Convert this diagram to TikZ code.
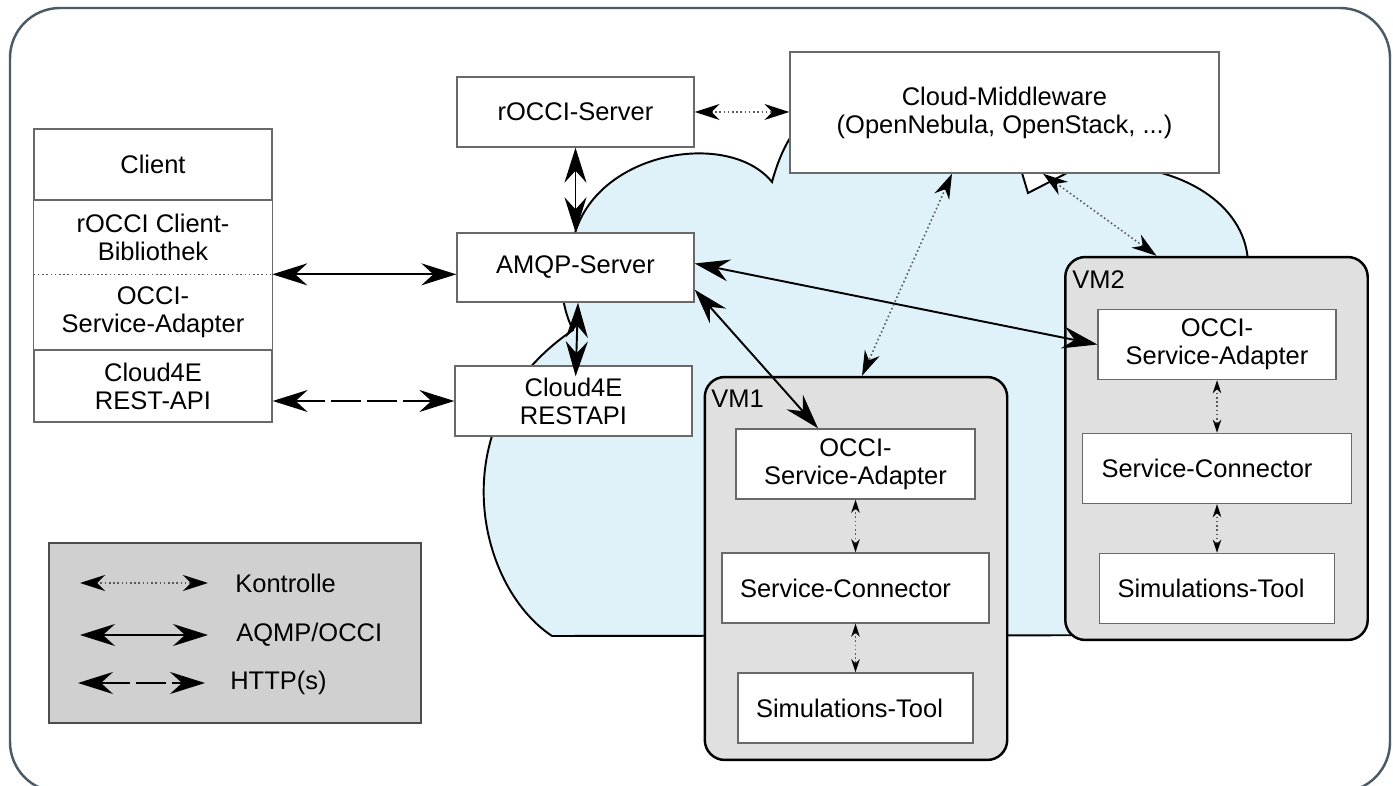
\documentclass[tikz,border=0pt]{standalone}
\usepackage{fontspec}
\setmainfont{Liberation Sans}
\usetikzlibrary{arrows.meta}
\usepackage{xcolor}
\definecolor{skyLight}{RGB}{223, 241, 249}
\definecolor{vmGray}{RGB}{224, 224, 224}
\definecolor{legendGray}{RGB}{208, 208, 208}
\definecolor{frameSlate}{RGB}{75, 90, 102}
\definecolor{boxLine}{RGB}{105, 105, 105}

\begin{document}
\begin{tikzpicture}
	[
		x=0.02cm, y=-0.02cm,
		font=\fontsize{14.5}{16}\selectfont,
		box/.style={
			draw=boxLine, line width=0.8pt, fill=white, align=center,
			inner sep=2pt, minimum height=1.4cm
		},
		cell/.style={align=center, inner sep=0pt, minimum width=4.76cm},
		vm/.style={
			draw=black, line width=1.4pt, fill=vmGray,
			rounded corners=0.4cm, minimum width=6.05cm, minimum height=7.66cm
		},
		tag/.style={anchor=base west, inner sep=0pt},
		amqp/.style={
			line width=1.1pt,
			{Stealth[length=0.7cm, width=0.44cm, inset=0.24cm]}-{Stealth[length=0.7cm, width=0.44cm, inset=0.24cm]}
		},
		http/.style={amqp, dash pattern=on 0.6cm off 0.12cm},
		ctrl/.style={
			draw=black!65, line width=0.9pt, dash pattern=on 0.9pt off 1.5pt,
			{Stealth[length=0.5cm, width=0.32cm, inset=0.16cm, color=black]}-{Stealth[length=0.5cm, width=0.32cm, inset=0.16cm, color=black]}
		},
		inner/.style={
			ctrl,
			{Stealth[length=0.26cm, width=0.17cm, inset=0.08cm, color=black]}-{Stealth[length=0.26cm, width=0.17cm, inset=0.08cm, color=black]}
		}
	]

\useasboundingbox (0,0) rectangle (1393,786);

% Frame
\draw [frameSlate, line width=1.4pt, rounded corners=1cm]
	(10,8) rectangle (1390,792);

% Cloud
\draw [fill=skyLight, line width=1.1pt]
	(552,636)
	.. controls (475,585) and (440,420) .. (573,330)
	.. controls (558,300) and (558,262) .. (575,233)
	.. controls (600,150) and (730,130) .. (772,182)
	.. controls (778,160) and (785,145) .. (795,130)
	.. controls (830,60) and (990,70) .. (1018,165)
	-- (1022,173) -- (1028,193) -- (1067,173)
	.. controls (1075,160) and (1088,162) .. (1100,165)
	.. controls (1190,165) and (1248,210) .. (1248,265)
	-- (1250,635) -- cycle;

% Legend
\node (legend) [draw=black!70, line width=0.8pt, fill=legendGray,
	minimum width=7.44cm, minimum height=3.6cm] at (235,633) {};
\coordinate (k0) at (80,583);
\coordinate (k1) at (208,583);
\coordinate (a0) at (80,635);
\coordinate (a1) at (208,635);
\coordinate (h0) at (78,683);
\coordinate (h1) at (205,683);
\node (ktext) [anchor=west, inner sep=0pt] at (235,583) {Kontrolle};
\node (atext) [anchor=west, inner sep=0pt] at (236,635) {AQMP/OCCI};
\node (htext) [anchor=west, inner sep=0pt] at (230,683) {HTTP(s)};
\draw [ctrl] (k0) -- (k1);
\draw [amqp] (a0) -- (a1);
\draw [http] (h0) -- (h1);

% Client stack
\node (client) [box, minimum width=4.76cm, minimum height=1.42cm] at (153,164.5) {Client};
\node (lib) [cell, minimum height=1.48cm] at (153,237) {rOCCI Client-\\Bibliothek};
\node (adapter) [cell, minimum height=1.52cm] at (153,312) {OCCI-\\Service-Adapter};
\node (rest) [box, minimum width=4.76cm, minimum height=1.44cm] at (153,386) {Cloud4E\\REST-API};
\draw [boxLine, line width=0.8pt] (lib.north west) rectangle (adapter.south east);
\draw [ctrl, -] (lib.south west) -- (lib.south east);

% Servers
\node (rocci) [box, minimum width=4.74cm] at (575.5,112) {rOCCI-Server};
\node (mw) [box, minimum width=8.58cm, minimum height=2.42cm] at (1004.5,112.5)
	{Cloud-Middleware\\(OpenNebula, OpenStack, ...)};
\node (amqpsrv) [box, minimum width=4.74cm, minimum height=1.38cm] at (575.5,267.5) {AMQP-Server};
\node (restapi) [box, minimum width=4.74cm] at (573.5,401) {Cloud4E\\RESTAPI};

% Virtual machines
\node (vm1) [vm] at (856,568.5) {};
\node (vm1tag) [tag] at (711,408) {VM1};
\node (o1) [box, minimum width=4.78cm] at (855.5,464) {OCCI-\\Service-Adapter};
\node (c1) [box, minimum width=5.34cm, node distance=2.48cm, below of=o1] {\hspace*{-0.4cm}Service-Connector};
\node (s1) [box, minimum width=4.7cm, node distance=2.4cm, below of=c1] {\hspace*{-0.24cm}Simulations-Tool};

\node (vm2) [vm] at (1216.5,448.5) {};
\node (vm2tag) [tag] at (1072,289) {VM2};
\node (o2) [box, minimum width=4.76cm] at (1217,344.5) {OCCI-\\Service-Adapter};
\node (c2) [box, minimum width=5.38cm, node distance=2.48cm, below of=o2] {\hspace*{-0.4cm}Service-Connector};
\node (s2) [box, minimum width=4.7cm, node distance=2.4cm, below of=c2] {\hspace*{-0.24cm}Simulations-Tool};

% Connections
\draw [amqp] (lib.south east) -- (lib.south east -| amqpsrv.west);
\draw [http] (rest.east |- restapi.west) -- (restapi.west);
\draw [amqp] (rocci.south) -- (amqpsrv.north);
\draw [amqp, shorten >=-0.22cm] ([xshift=0.05cm]amqpsrv.south) -- ([xshift=0.05cm]restapi.north);
\draw [ctrl] (rocci.east) -- (rocci.east -| mw.west);
\draw [amqp] ([yshift=0.08cm]amqpsrv.east) -- (o2.west);
\draw [amqp] ([yshift=0.26cm]amqpsrv.south east) -- ([xshift=-0.75cm]o1.north);
\draw [ctrl] ([xshift=-1.05cm]mw.south) -- ([xshift=0.12cm]vm1.north);
\draw [ctrl] ([xshift=0.77cm]mw.south) -- ([xshift=-1.2cm]vm2.north);

\draw [inner] (o1.south) -- (c1.north);
\draw [inner] (c1.south) -- (s1.north);
\draw [inner] (o2.south) -- (c2.north);
\draw [inner] (c2.south) -- (s2.north);

\end{tikzpicture}
\end{document}
